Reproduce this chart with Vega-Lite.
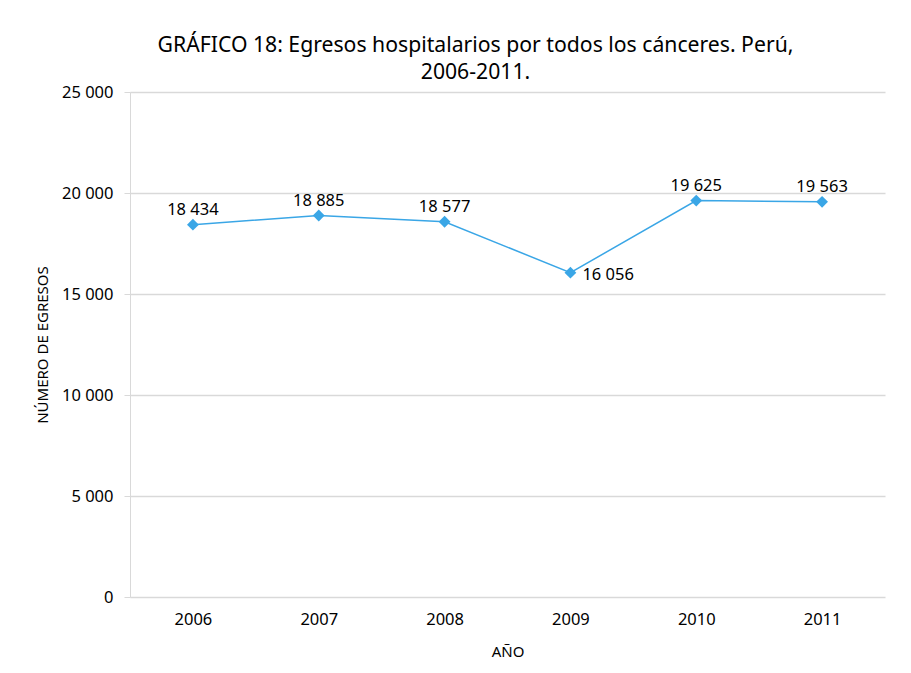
{
  "$schema": "https://vega.github.io/schema/vega-lite/v6.json",
  "width": 755,
  "height": 505,
  "autosize": {"type": "none"},
  "padding": {"left": 130, "top": 92, "right": 26, "bottom": 76},
  "background": "white",
  "config": {
    "font": "Noto Sans",
    "view": {"stroke": null},
    "locale": {"number": {"decimal": ",", "thousands": " ", "grouping": [3], "currency": ["", ""]}}
  },
  "title": {
    "text": ["GRÁFICO 18: Egresos hospitalarios por todos los cánceres. Perú,", "2006-2011."],
    "fontSize": 21.2,
    "fontWeight": "normal",
    "color": "#000000",
    "anchor": "middle",
    "frame": "group",
    "dx": -32,
    "offset": 1,
    "lineHeight": 27
  },
  "data": {
    "values": [
      {"year": "2006", "egresos": 18434},
      {"year": "2007", "egresos": 18885},
      {"year": "2008", "egresos": 18577},
      {"year": "2009", "egresos": 16056},
      {"year": "2010", "egresos": 19625},
      {"year": "2011", "egresos": 19563}
    ]
  },
  "encoding": {
    "x": {
      "field": "year",
      "type": "ordinal",
      "scale": {"paddingInner": 0, "paddingOuter": 0.5},
      "axis": {
        "title": "AÑO",
        "titleFontSize": 15,
        "titleFontWeight": "normal",
        "titleColor": "#000000",
        "titlePadding": 17,
        "labelAngle": 0,
        "labelFontSize": 16.5,
        "labelColor": "#000000",
        "labelPadding": 14,
        "ticks": false,
        "domain": false,
        "grid": false
      }
    },
    "y": {
      "field": "egresos",
      "type": "quantitative",
      "scale": {"domain": [0, 25000], "nice": false},
      "axis": {
        "title": "NÚMERO DE EGRESOS",
        "titleFontSize": 15,
        "titleFontWeight": "normal",
        "titleColor": "#000000",
        "titlePadding": 11,
        "values": [0, 5000, 10000, 15000, 20000, 25000],
        "format": ",d",
        "labelFontSize": 16.5,
        "labelColor": "#000000",
        "labelPadding": 11,
        "tickSize": 6,
        "tickColor": "#d9d9d9",
        "domainColor": "#d9d9d9",
        "gridColor": "#d9d9d9",
        "gridWidth": 1.5
      }
    }
  },
  "layer": [
    {
      "mark": {"type": "line", "color": "#3AA6E6", "strokeWidth": 1.5}
    },
    {
      "mark": {"type": "point", "shape": "diamond", "filled": true, "opacity": 1, "color": "#3AA6E6", "size": 140}
    },
    {
      "transform": [{"filter": "datum.year != '2009'"}],
      "mark": {"type": "text", "baseline": "alphabetic", "dy": -10, "fontSize": 16.5, "color": "#000000"},
      "encoding": {"text": {"field": "egresos", "type": "quantitative", "format": ",d"}}
    },
    {
      "transform": [{"filter": "datum.year == '2009'"}],
      "mark": {"type": "text", "align": "left", "baseline": "middle", "dx": 12, "dy": 2, "fontSize": 16.5, "color": "#000000"},
      "encoding": {"text": {"field": "egresos", "type": "quantitative", "format": ",d"}}
    }
  ]
}
